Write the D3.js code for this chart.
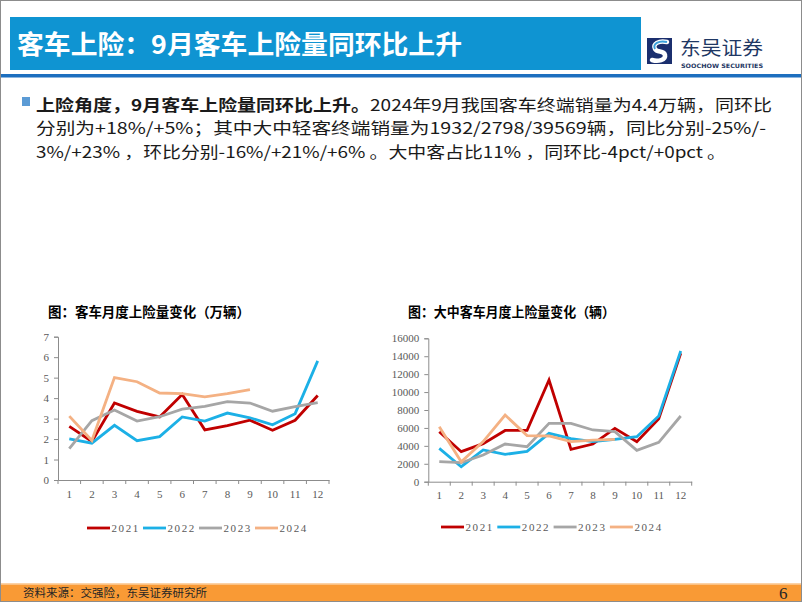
<!DOCTYPE html>
<html><head><meta charset="utf-8">
<script src="https://cdn.jsdelivr.net/npm/d3@7"></script>
<style>
body{margin:0;padding:0;background:#fff;}
svg{display:block;}
</style></head>
<body>
<svg id="c" width="802" height="602"></svg>
<script>
// ---------- data ----------
const months = ["1","2","3","4","5","6","7","8","9","10","11","12"];
const seriesNames = ["2021","2022","2023","2024"];
const seriesColors = ["#c00000","#1cb0e6","#a6a6a6","#f4b183"];

// 客车月度上险量（万辆）
const bus2021 = [2.62,1.88,3.76,3.35,3.08,4.18,2.45,2.66,2.92,2.43,2.92,4.13];
const bus2022 = [2.01,1.80,2.67,1.92,2.12,3.08,2.88,3.27,3.04,2.70,3.24,5.82];
const bus2023 = [1.53,2.90,3.42,2.88,3.09,3.46,3.60,3.83,3.76,3.36,3.58,3.78];
const bus2024 = [3.12,1.93,5.00,4.80,4.25,4.22,4.06,4.22,4.42];
const busTicks = [0,1,2,3,4,5,6,7];

// 大中客车月度上险量（辆）
const big2021 = [5580,3350,4250,5720,5730,11350,3610,4200,5950,4470,7030,14330];
const big2022 = [3720,1670,3540,3050,3390,5400,4800,4470,4730,5020,7330,14590];
const big2023 = [2230,2120,2980,4200,3910,6510,6510,5770,5580,3500,4390,7330];
const big2024 = [6140,2230,4470,7440,5140,5100,4470,4650,4730];
const bigTicks = [0,2000,4000,6000,8000,10000,12000,14000,16000];

const svg = d3.select("#c");

// ---------- page frame ----------
svg.append("rect").attr("x",0.5).attr("y",0.5).attr("width",801).attr("height",601)
  .attr("fill","#fff").attr("stroke","#8c8c8c").attr("stroke-width",1);

// header box
svg.append("rect").attr("x",10).attr("y",17).attr("width",631).attr("height",53).attr("fill","#0f94d2");
svg.append("text").attr("x",17).attr("y",54)
  .attr("font-family","'Noto Sans CJK SC'").attr("font-weight","bold").attr("font-size",26)
  .attr("fill","#fff").attr("textLength",445).attr("lengthAdjust","spacingAndGlyphs")
  .text("客车上险：9月客车上险量同环比上升");

// header rule
svg.append("rect").attr("x",1).attr("y",74).attr("width",800).attr("height",3.5).attr("fill","#1d6fbf");

// logo
const lg = svg.append("g").attr("transform","translate(647,38)");
lg.append("rect").attr("x",0).attr("y",0).attr("width",25).attr("height",26).attr("fill","#1b2f6e");
lg.append("path").attr("d","M20,4 C12,2 5,6 8,11 C10,15 17,12 18,17 C19,22 11,24 5,22")
  .attr("fill","none").attr("stroke","#fff").attr("stroke-width",4.5).attr("stroke-linecap","round");
lg.append("path").attr("d","M20,4 C12,2 5,6 8,11")
  .attr("fill","none").attr("stroke","#3aa0dc").attr("stroke-width",2);
svg.append("text").attr("x",680).attr("y",55)
  .attr("font-family","'Noto Sans CJK SC'").attr("font-size",19).attr("fill","#1f3864")
  .attr("textLength",83).attr("lengthAdjust","spacingAndGlyphs")
  .text("东吴证券");
svg.append("text").attr("x",681).attr("y",68)
  .attr("font-family","'DejaVu Sans'").attr("font-weight","bold").attr("font-size",6)
  .attr("fill","#1f3864")
  .attr("textLength",82).attr("lengthAdjust","spacingAndGlyphs")
  .text("SOOCHOW SECURITIES");

// bullet paragraph
svg.append("rect").attr("x",22).attr("y",97).attr("width",8).attr("height",9).attr("fill","#5b9bd5");
const pf = "'Noto Sans CJK SC'";
const pfs = 16.2;
const l1 = svg.append("text").attr("x",36).attr("y",110.5).attr("font-family",pf).attr("font-size",pfs)
  .attr("fill","#1a1a1a").attr("textLength",736).attr("lengthAdjust","spacingAndGlyphs");
l1.append("tspan").attr("font-weight","bold").text("上险角度，9月客车上险量同环比上升。");
l1.append("tspan").text("2024年9月我国客车终端销量为4.4万辆，同环比");
svg.append("text").attr("x",36).attr("y",134).attr("font-family",pf).attr("font-size",pfs)
  .attr("fill","#1a1a1a").attr("textLength",730).attr("lengthAdjust","spacingAndGlyphs")
  .text("分别为+18%/+5%；其中大中轻客终端销量为1932/2798/39569辆，同比分别-25%/-");
svg.append("text").attr("x",36).attr("y",157.5).attr("font-family",pf).attr("font-size",pfs)
  .attr("fill","#1a1a1a").attr("textLength",690).attr("lengthAdjust","spacingAndGlyphs")
  .text("3%/+23% ，环比分别-16%/+21%/+6% 。大中客占比11% ，同环比-4pct/+0pct 。");

// footer
svg.append("rect").attr("x",1).attr("y",583).attr("width",800).attr("height",1.5).attr("fill","#fcd2a6");
svg.append("rect").attr("x",1).attr("y",584.5).attr("width",800).attr("height",16.5).attr("fill","#f99a35");
svg.append("text").attr("x",23).attr("y",597).attr("font-family",pf).attr("font-size",11.5)
  .attr("fill","#262626").text("资料来源：交强险，东吴证券研究所");
svg.append("text").attr("x",779).attr("y",599).attr("font-family","'Liberation Serif'").attr("font-size",17)
  .attr("fill","#262626").text("6");

// ---------- chart builder ----------
function drawChart(opt){
  const g = svg.append("g");
  g.append("text").attr("x",opt.titleX).attr("y",317).attr("font-family",pf).attr("font-weight","bold")
    .attr("font-size",13.5).attr("fill","#000")
    .attr("textLength",opt.titleW).attr("lengthAdjust","spacingAndGlyphs").text(opt.title);

  const x = d3.scaleBand().domain(months).range([opt.x0, opt.x1]);
  const y = d3.scaleLinear().domain([opt.ticks[0], opt.ticks[opt.ticks.length-1]]).range([opt.y0, opt.y1]);

  const ya = g.append("g").attr("transform",`translate(${opt.x0},0)`)
    .call(d3.axisLeft(y).tickValues(opt.ticks).tickSize(4).tickPadding(5).tickFormat(d3.format("d")));
  const xa = g.append("g").attr("transform",`translate(0,${opt.y0})`)
    .call(d3.axisBottom(x).tickSize(0).tickPadding(10));
  // boundary ticks for x axis
  xa.selectAll(".btick").data(months.concat(["end"])).enter().append("line")
    .attr("class","btick")
    .attr("x1",(d,i)=> i<months.length ? x(d) : x.range()[1])
    .attr("x2",(d,i)=> i<months.length ? x(d) : x.range()[1])
    .attr("y1",0).attr("y2",4).attr("stroke","#8c8c8c");
  [ya,xa].forEach(a=>{
    a.select(".domain").attr("stroke","#8c8c8c");
    a.selectAll(".tick line").attr("stroke","#8c8c8c");
    a.selectAll("text").attr("font-family","'Liberation Serif'").attr("font-size",11).attr("fill","#595959");
  });

  const line = d3.line().x((d,i)=>x(months[i])+x.bandwidth()/2).y(d=>y(d));
  opt.data.forEach((s,k)=>{
    g.append("path").datum(s).attr("d",line).attr("fill","none")
      .attr("stroke",seriesColors[k]).attr("stroke-width",2.8).attr("stroke-linejoin","miter");
  });

  // legend
  const lgd = g.append("g").attr("transform",`translate(${opt.legX},${opt.legY})`);
  seriesNames.forEach((n,k)=>{
    const it = lgd.append("g").attr("transform",`translate(${k*opt.legStep},0)`);
    it.append("line").attr("x1",0).attr("x2",23).attr("y1",0).attr("y2",0)
      .attr("stroke",seriesColors[k]).attr("stroke-width",2.8);
    it.append("text").attr("x",24.5).attr("y",4).attr("font-family","'Liberation Serif'")
      .attr("font-size",11).attr("letter-spacing",1.6).attr("fill","#595959").text(n);
  });
}

drawChart({
  title:"图：客车月度上险量变化（万辆）", titleX:48, titleW:202,
  x0:58, x1:329, y0:480, y1:336.7, ticks:busTicks,
  data:[bus2021,bus2022,bus2023,bus2024],
  legX:87, legY:528, legStep:56
});
drawChart({
  title:"图：大中客车月度上险量变化（辆）", titleX:408, titleW:207,
  x0:428.3, x1:691.7, y0:481.7, y1:338.3, ticks:bigTicks,
  data:[big2021,big2022,big2023,big2024],
  legX:441, legY:527, legStep:56.3
});
</script>
</body></html>
